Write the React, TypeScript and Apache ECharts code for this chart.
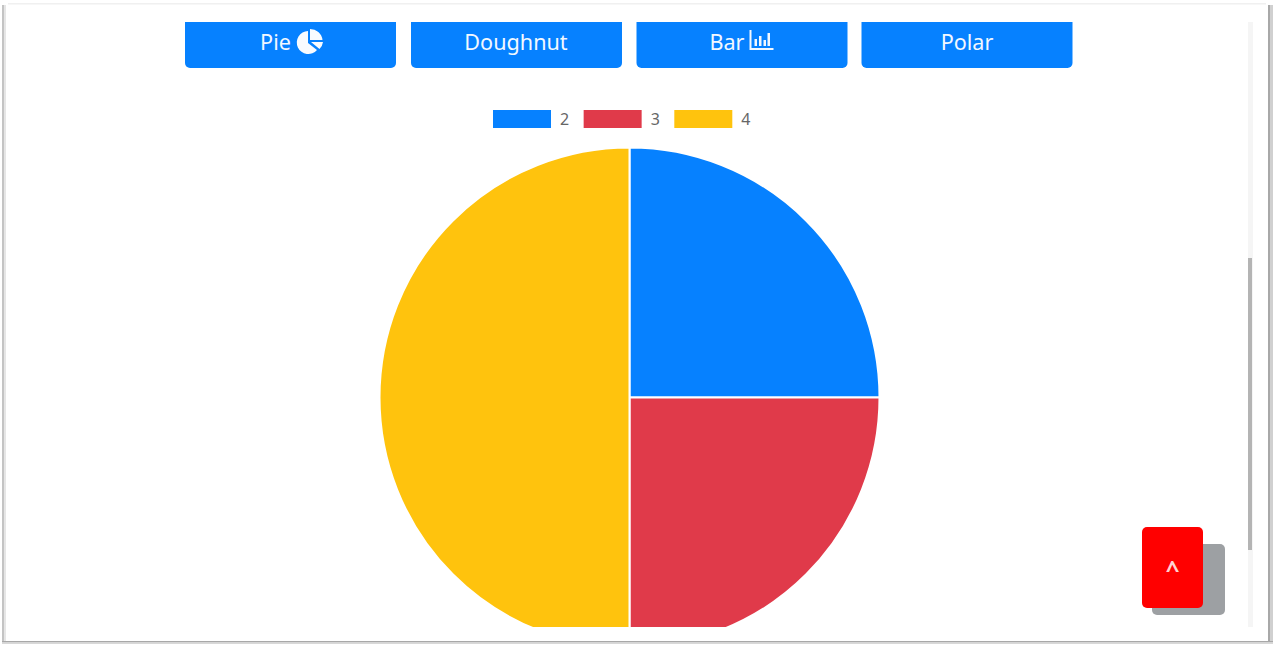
import React, { useEffect, useRef } from "react";
import * as echarts from "echarts";

const sliceLabels = ["2", "3", "4"];
const sliceValues = [1, 1, 2];
const sliceColors = ["#0681ff", "#e03a4a", "#ffc30d"];
const buttonLabels = ["Pie", "Doughnut", "Bar", "Polar"];
const buttonLefts = [185, 411, 636.5, 861.5];
const scrollLabel = "^";

const FONT = "'Noto Sans', 'Open Sans', sans-serif";
const BLUE = "#0681ff";

echarts.graphic.registerShape(
  "pieIcon",
  echarts.graphic.extendPath(
    "M11 2 A11.5 11.5 0 1 0 20 21 L11 14 Z M13 0 L13 11 L25.5 11 A12.5 12.5 0 0 0 13 0 Z M14 13 L26 13 A12 12 0 0 1 22.5 20 Z",
    {}
  )
);
echarts.graphic.registerShape(
  "barIcon",
  echarts.graphic.extendPath(
    "M0 0 H2 V18 H24 V20 H0 Z M5 9 H7.5 V16 H5 Z M9.5 6 H12 V16 H9.5 Z M14 10 H16.5 V16 H14 Z M18 3 H20.5 V16 H18 Z",
    {}
  )
);

export default function App() {
  const ref = useRef<HTMLDivElement>(null);

  useEffect(() => {
    if (!ref.current) return;
    const chart = echarts.init(ref.current, undefined, { renderer: "svg" });

    const buttons: any[] = buttonLabels.map((label, i) => ({
      type: "rect",
      z: 10,
      shape: { x: buttonLefts[i], y: 22, width: 211, height: 46, r: [0, 0, 5, 5] },
      style: { fill: BLUE },
    }));
    const buttonCenters = [275.5, 516, 727, 967];
    const buttonTexts: any[] = buttonLabels.map((label, i) => ({
      type: "text",
      z: 11,
      x: buttonCenters[i],
      y: 41,
      style: {
        text: label,
        fill: "#f2f8ff",
        font: `21.6px ${FONT}`,
        align: "center",
        verticalAlign: "middle",
      },
    }));

    chart.setOption({
      animation: false,
      backgroundColor: "#ffffff",
      color: sliceColors,
      legend: {
        left: 493,
        top: 110,
        padding: 0,
        itemWidth: 58,
        itemHeight: 18,
        itemGap: 14.5,
        selectedMode: false,
        icon: "rect",
        data: sliceLabels,
        itemStyle: { borderWidth: 0 },
        textStyle: { color: "#666666", fontSize: 16, fontFamily: FONT, padding: [0, 0, 0, 4] },
      },
      series: [
        {
          type: "pie",
          center: [629.5, 397.5],
          radius: [0, 250],
          startAngle: 90,
          clockwise: true,
          label: { show: false },
          labelLine: { show: false },
          emphasis: { disabled: true },
          itemStyle: { borderColor: "#ffffff", borderWidth: 2 },
          data: sliceLabels.map((name, i) => ({ name, value: sliceValues[i] })),
        },
      ],
      graphic: {
        elements: [
          // clip of the bottom of the pie
          { type: "rect", z: 5, shape: { x: 300, y: 627, width: 660, height: 18 }, style: { fill: "#ffffff" } },
          // page frame
          { type: "rect", z: 6, shape: { x: 8, y: 3, width: 1258, height: 1.5 }, style: { fill: "#f0f0f0" } },
          { type: "rect", z: 6, shape: { x: 2, y: 5, width: 2, height: 637 }, style: { fill: "#c4c4c4" } },
          { type: "rect", z: 6, shape: { x: 4, y: 5, width: 2, height: 637 }, style: { fill: "#e6e6e6" } },
          { type: "rect", z: 6, shape: { x: 1268, y: 5, width: 2.5, height: 637 }, style: { fill: "#a8a8a8" } },
          { type: "rect", z: 6, shape: { x: 1270.5, y: 5, width: 2.5, height: 637 }, style: { fill: "#d0d0d0" } },
          { type: "rect", z: 6, shape: { x: 2, y: 641, width: 1271, height: 1.5 }, style: { fill: "#a8a8a8" } },
          { type: "rect", z: 6, shape: { x: 2, y: 642.5, width: 1271, height: 1.5 }, style: { fill: "#d8d8d8" } },
          // scrollbar
          { type: "rect", z: 6, shape: { x: 1248, y: 22, width: 5, height: 605 }, style: { fill: "#f5f5f5" } },
          { type: "rect", z: 7, shape: { x: 1248, y: 258, width: 4, height: 292 }, style: { fill: "#b4b4b4" } },
          // buttons
          ...buttons,
          ...buttonTexts,
          {
            type: "pieIcon",
            z: 11,
            x: 297,
            y: 29,
            style: { fill: "#f8fbff" },
          },
          {
            type: "barIcon",
            z: 11,
            x: 749.5,
            y: 30,
            style: { fill: "#f2f8ff" },
          },
          // scroll-to-top button
          { type: "rect", z: 8, shape: { x: 1152, y: 544, width: 73, height: 71, r: 5 }, style: { fill: "#9da0a3" } },
          { type: "rect", z: 9, shape: { x: 1142, y: 527, width: 61, height: 81, r: 5 }, style: { fill: "#ff0000" } },
          {
            type: "text",
            z: 10,
            x: 1172.5,
            y: 568,
            style: {
              text: scrollLabel,
              fill: "#ffd0d0",
              font: `bold 24px ${FONT}`,
              align: "center",
              verticalAlign: "middle",
            },
          },
        ],
      },
    });
    return () => chart.dispose();
  }, []);

  return (
    <div
      ref={ref}
      style={{ position: "fixed", left: 0, top: 0, width: 1275, height: 645, background: "#fff" }}
    />
  );
}
